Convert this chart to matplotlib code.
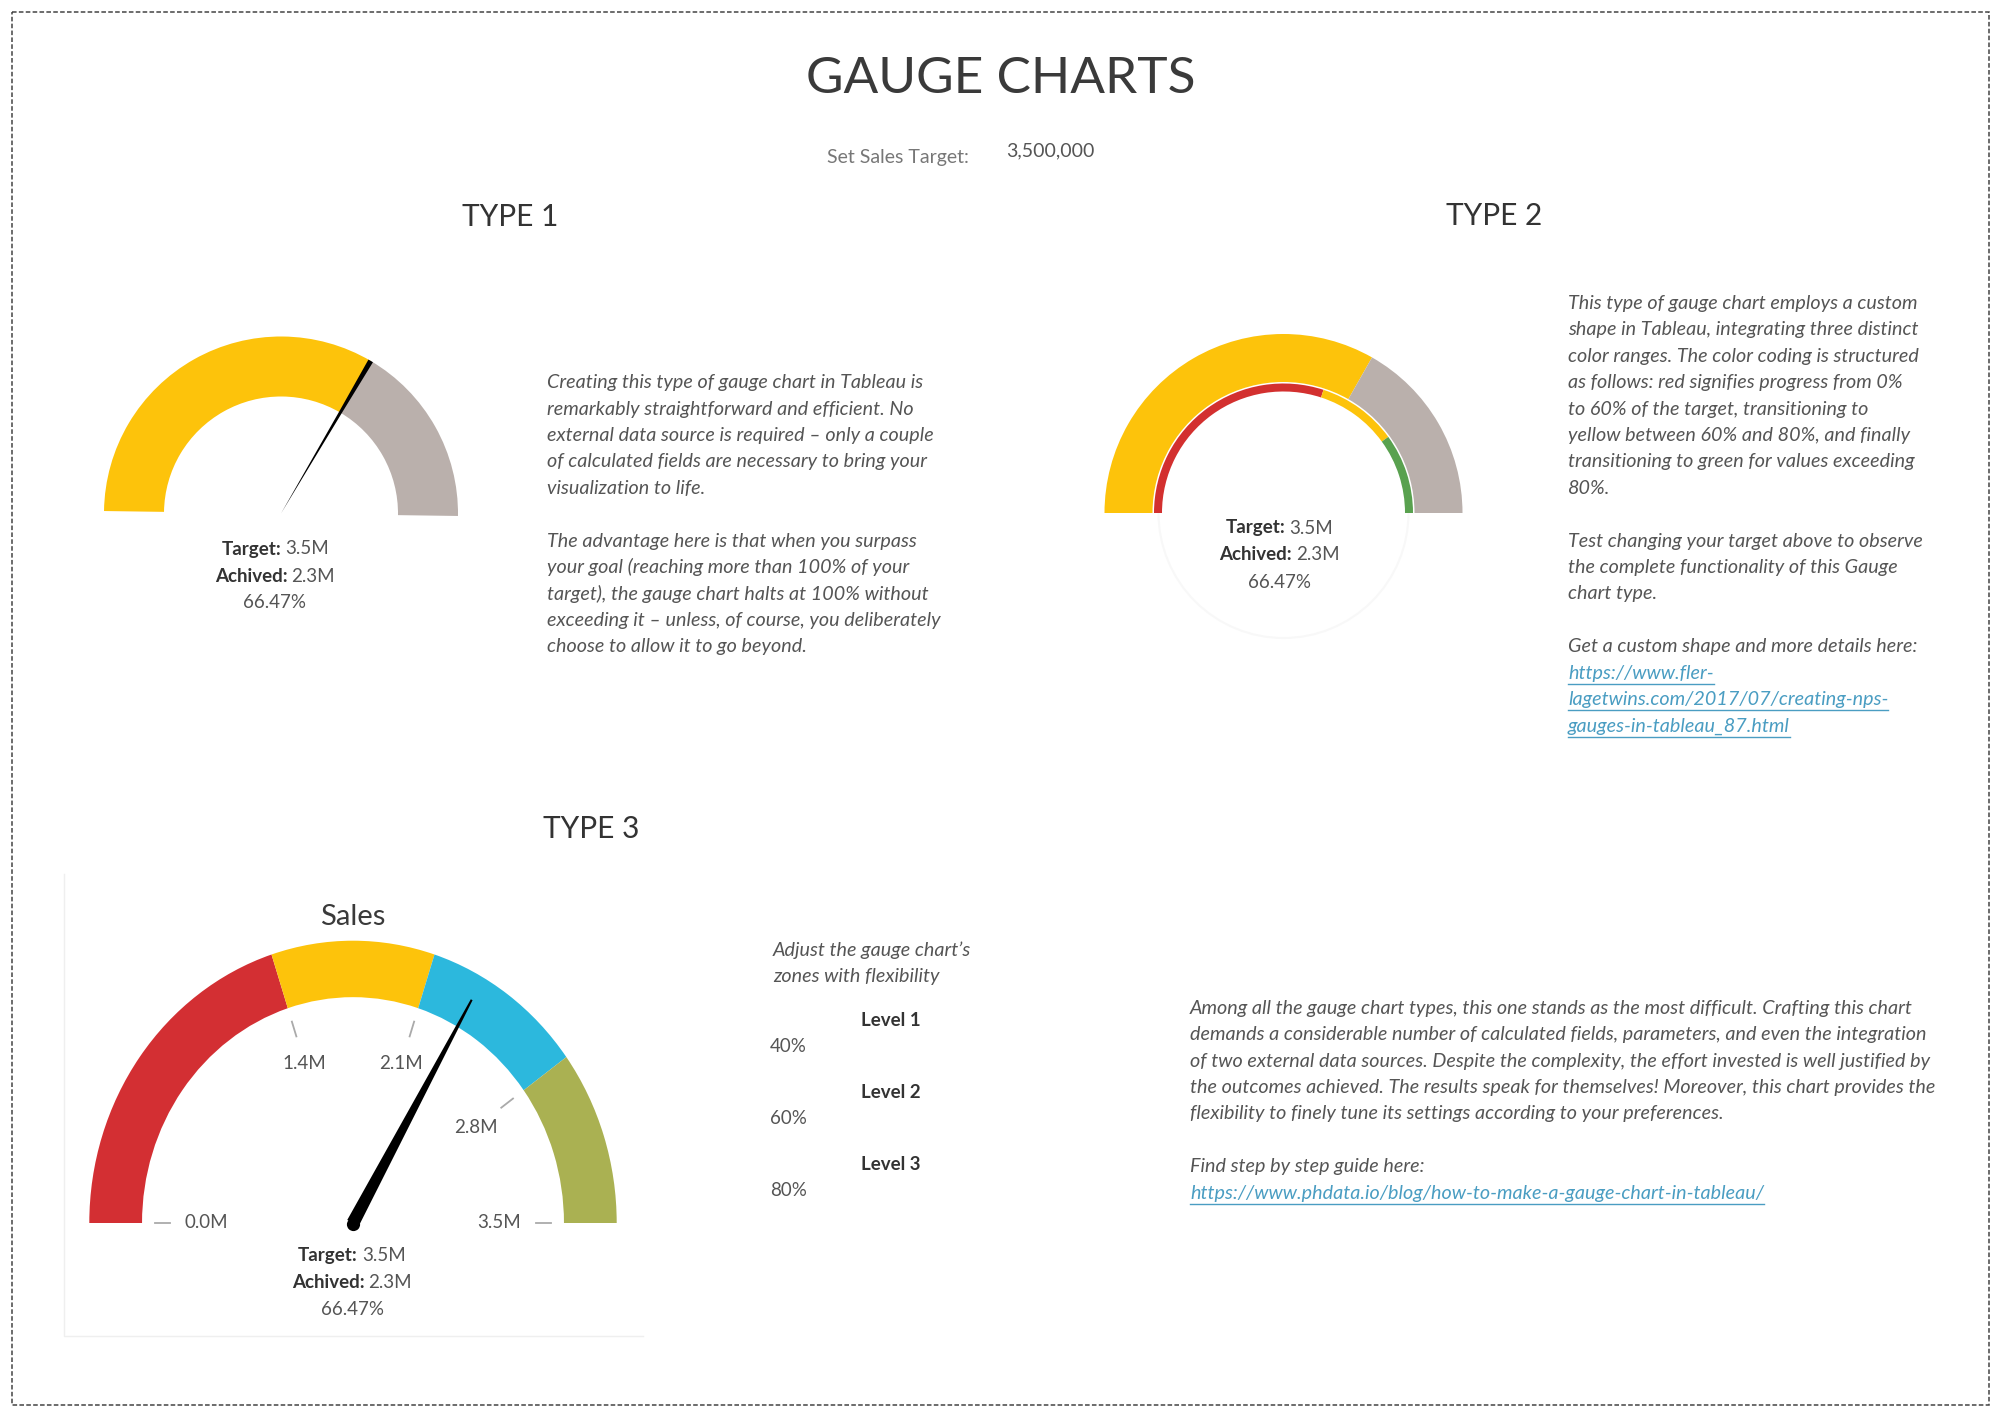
import matplotlib
matplotlib.use("Agg")
import matplotlib.pyplot as plt
import numpy as np
from matplotlib.patches import Wedge, Rectangle, Polygon, Arc

# ---------------------------------------------------------------- data
target = 3500000
achieved = 2326450                      # 66.47 % of target
type2_bands = [0.6, 0.8]                # red < 60 % < yellow < 80 % < green
type3_levels = [0.4, 0.6, 0.8]          # Level 1..3
type3_level_names = ["Level 1", "Level 2", "Level 3"]

yellow = "#FDC30B"
grey = "#BAB0AC"
type2_band_colors = ["#D3302F", yellow, "#59A14F"]
type3_zone_colors = ["#D32F33", yellow, "#2CB8DD", "#AAB152"]

text1 = ["Creating this type of gauge chart in Tableau is",
         "remarkably straightforward and efficient. No",
         "external data source is required \u2013 only a couple",
         "of calculated fields are necessary to bring your",
         "visualization to life.",
         "",
         "The advantage here is that when you surpass",
         "your goal (reaching more than 100% of your",
         "target), the gauge chart halts at 100% without",
         "exceeding it \u2013 unless, of course, you deliberately",
         "choose to allow it to go beyond."]
text2 = ["This type of gauge chart employs a custom",
         "shape in Tableau, integrating three distinct",
         "color ranges. The color coding is structured",
         "as follows: red signifies progress from 0%",
         "to 60% of the target, transitioning to",
         "yellow between 60% and 80%, and finally",
         "transitioning to green for values exceeding",
         "80%.",
         "",
         "Test changing your target above to observe",
         "the complete functionality of this Gauge",
         "chart type.",
         "",
         "Get a custom shape and more details here:"]
link2 = ["https://www.fler-",
         "lagetwins.com/2017/07/creating-nps-",
         "gauges-in-tableau_87.html"]
text3 = ["Among all the gauge chart types, this one stands as the most difficult. Crafting this chart",
         "demands a considerable number of calculated fields, parameters, and even the integration",
         "of two external data sources. Despite the complexity, the effort invested is well justified by",
         "the outcomes achieved. The results speak for themselves! Moreover, this chart provides the",
         "flexibility to finely tune its settings according to your preferences.",
         "",
         "Find step by step guide here:"]
link3 = ["https://www.phdata.io/blog/how-to-make-a-gauge-chart-in-tableau/"]

# ---------------------------------------------------------------- fonts
body = "Lato"
bsize = 13.5        # regular text
isize = 14.2        # italic paragraphs
head = "Lato"
dark, mid, light = "#333333", "#555555", "#777777"
link_col = "#4A9DC2"
LS = 26.4                               # line spacing, px

W, H = 2000, 1417
fig = plt.figure(figsize=(20, 14.17), dpi=100)
ax = fig.add_axes([0, 0, 1, 1])
ax.set_xlim(0, W)
ax.set_ylim(H, 0)
ax.axis("off")
renderer = fig.canvas.get_renderer()

pct = achieved / target
fill = min(pct, 1.0)


def gauge_axes(cx, cy, rx, ry):
    # axes whose unit is the outer radius, centred on pixel (cx, cy)
    pad = 1.25
    a = fig.add_axes([(cx - pad * rx) / W, (H - cy - pad * ry) / H,
                      2 * pad * rx / W, 2 * pad * ry / H])
    a.set_xlim(-pad, pad)
    a.set_ylim(-pad, pad)
    a.axis("off")
    return a


def pair(x, y, label, value, size=bsize):
    t1 = ax.text(0, y, label, fontfamily=body, fontweight="bold", fontsize=size,
                 color=dark, va="center", ha="left")
    t2 = ax.text(0, y, value, fontfamily=body, fontsize=size, color=mid,
                 va="center", ha="left")
    w1 = t1.get_window_extent(renderer).width
    w2 = t2.get_window_extent(renderer).width
    gap = 4
    x0 = x - (w1 + gap + w2) / 2
    t1.set_x(x0)
    t2.set_x(x0 + w1 + gap)


def para(x, y0, lines, color=mid):
    for i, s in enumerate(lines):
        if s:
            ax.text(x, y0 + i * LS, s, fontfamily=body, fontstyle="italic",
                    fontsize=isize, color=color, va="center", ha="left")
    return y0 + len(lines) * LS


def links(x, y0, lines):
    for i, s in enumerate(lines):
        t = ax.text(x, y0 + i * LS, s, fontfamily=body, fontstyle="italic",
                    fontsize=isize, color=link_col, va="center", ha="left")
        w = t.get_window_extent(renderer).width
        ax.plot([x, x + w], [y0 + i * LS + 11, y0 + i * LS + 11],
                color=link_col, lw=1)


def summary(x, y):
    pair(x, y, "Target:", f"{target / 1e6:.1f}M")
    pair(x, y + 27, "Achived:", f"{achieved / 1e6:.1f}M")
    ax.text(x, y + 54, f"{pct * 100:.2f}%", fontfamily=body, fontsize=bsize,
            color=mid, va="center", ha="center")


# ---------------------------------------------------------------- frame & header
ax.add_patch(Rectangle((12, 12), 1977, 1393, fill=False, ec="#444444",
                       lw=1.1, ls=(0, (3, 1.5))))
ax.text(1001, 79, "GAUGE CHARTS", fontfamily=head, fontweight="normal",
        fontsize=37, color="#3a3a3a", ha="center", va="center")
ax.text(969, 157, "Set Sales Target:", fontfamily=body, fontsize=bsize + 0.5,
        color=light, ha="right", va="center")
ax.text(1006, 151, f"{target:,}", fontfamily=body, fontsize=bsize + 0.5,
        color=mid, ha="left", va="center")
for x, y, s in [(510, 217, "TYPE 1"), (1494, 216, "TYPE 2"), (591, 829, "TYPE 3")]:
    ax.text(x, y, s, fontfamily=head, fontweight="normal", fontsize=21.5,
            color=dark, ha="center", va="center")

# ---------------------------------------------------------------- type 1
R1, r1 = 177, 117
g1 = gauge_axes(281, 513.5, R1, R1)
tilt = -0.8
a1 = 180 - 180 * fill + tilt
g1.add_patch(Wedge((0, 0), 1, a1, 180 + tilt, width=1 - r1 / R1, color=yellow, lw=0))
g1.add_patch(Wedge((0, 0), 1, tilt, a1, width=1 - r1 / R1, color=grey, lw=0))
d = np.array([np.cos(np.radians(a1)), np.sin(np.radians(a1))])
n = np.array([-d[1], d[0]])
ri = r1 / R1
g1.add_patch(Polygon([(0, 0), ri * d + 1.5 / R1 * n, d + 2.6 / R1 * n,
                      d - 2.6 / R1 * n, ri * d - 1.5 / R1 * n],
                     closed=True, color="black", lw=0))
summary(275, 549)
para(547, 382.6, text1)

# ---------------------------------------------------------------- type 2
R2 = 179
g2 = gauge_axes(1283.5, 513, R2, R2)
a2 = 180 - 180 * fill
g2.add_patch(Wedge((0, 0), 1, a2, 180, width=1 - 131 / R2, color=yellow, lw=0))
g2.add_patch(Wedge((0, 0), 1, 0, a2, width=1 - 131 / R2, color=grey, lw=0))
edges = [0.0] + type2_bands + [1.0]
for lo, hi, c in zip(edges[:-1], edges[1:], type2_band_colors):
    g2.add_patch(Wedge((0, 0), 129.5 / R2, 180 - 180 * hi, 180 - 180 * lo,
                       width=8 / R2, color=c, lw=0))
g2.add_patch(Arc((0, 0), 2 * 125 / R2, 2 * 125 / R2, theta1=180, theta2=360,
                 color="#f8f8f8", lw=1.5))
summary(1279.5, 528)
y = para(1568, 303.5, text2)
links(1568, y, link2)

# ---------------------------------------------------------------- type 3
cx3, cy3, rx3, ry3 = 353, 1223, 263.7, 282.3
ax.plot([64, 64, 643], [874, 1336, 1336], color="#efefef", lw=1)
ax.text(352.7, 917, "Sales", fontfamily=head, fontsize=21, color="#3a3a3a",
        ha="center", va="center")
g3 = gauge_axes(cx3, cy3, rx3, ry3)
edges = [0.0] + type3_levels + [1.0]
for lo, hi, c in zip(edges[:-1], edges[1:], type3_zone_colors):
    g3.add_patch(Wedge((0, 0), 1, 180 - 180 * hi, 180 - 180 * lo, width=0.2,
                       color=c, lw=0))
for f in edges:
    th = np.radians(180 - 180 * f)
    g3.plot([0.695 * np.cos(th), 0.75 * np.cos(th)],
            [0.695 * np.sin(th), 0.75 * np.sin(th)], color="#aaaaaa", lw=1.3)
    rl = 0.555 + 0.04 * np.sin(th)
    g3.text(rl * np.cos(th), rl * np.sin(th), f"{target * f / 1e6:.1f}M",
            fontfamily=body, fontsize=bsize, color=mid, ha="center", va="center")
# needle
a3 = np.radians(180 - 180 * fill)
tip = np.array([rx3 * 0.91 * np.cos(a3), ry3 * 0.91 * np.sin(a3)])
u = tip / np.hypot(*tip)
nv = np.array([-u[1], u[0]])
pts = np.array([6.5 * nv, tip + 1.0 * nv, tip - 1.0 * nv, -6.5 * nv])
g3.add_patch(Polygon(pts / [rx3, ry3], closed=True, color="black", lw=0))
g3.plot(0, -1 / ry3, "o", ms=9.5, color="black", mew=0)
summary(352, 1255.5)

ax.text(773, 950, "Adjust the gauge chart\u2019s", fontfamily=body,
        fontstyle="italic", fontsize=isize, color=mid, va="center")
ax.text(773, 976.5, "zones with flexibility", fontfamily=body,
        fontstyle="italic", fontsize=isize, color=mid, va="center")
for i, (nm, lv) in enumerate(zip(type3_level_names, type3_levels)):
    ax.text(891, 1020.5 + i * 72, nm, fontfamily=body, fontweight="bold",
            fontsize=bsize, color=dark, ha="center", va="center")
    ax.text(770, 1047 + i * 72, f"{int(round(lv * 100))}%", fontfamily=body,
            fontsize=bsize, color=mid, ha="left", va="center")

y = para(1190, 1008.3, text3)
links(1190, y, link3)

fig.savefig("out.png", dpi=100)
